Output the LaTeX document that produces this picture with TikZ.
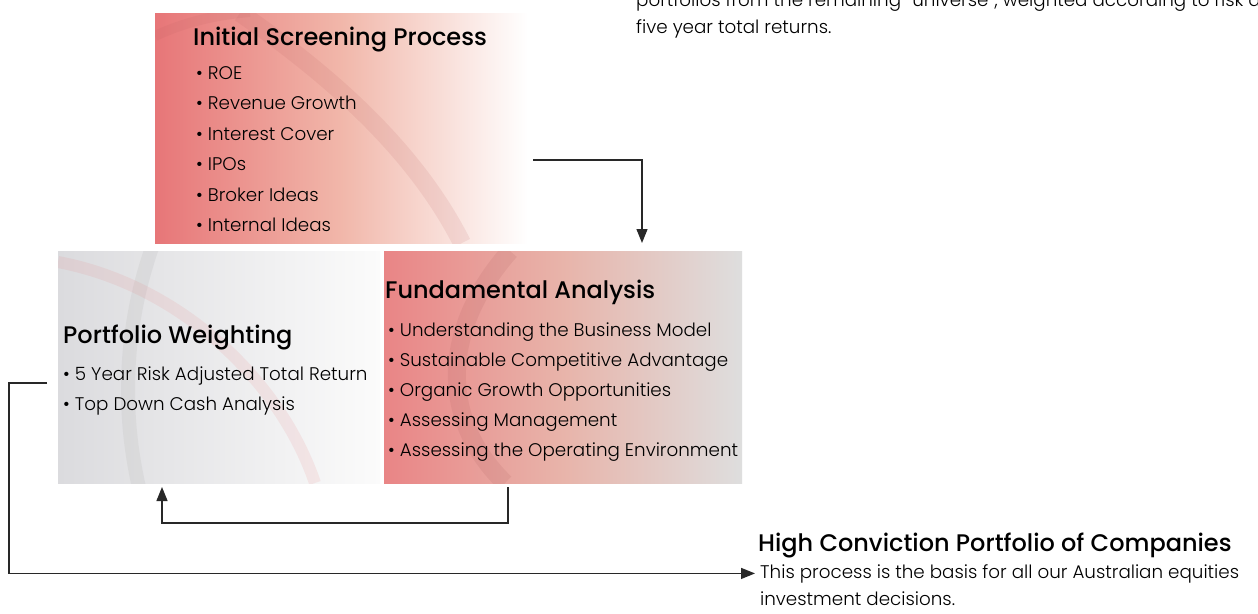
\documentclass[tikz,border=0pt]{standalone}
\usepackage{fontspec}
\setmainfont{Poppins Light}
\newfontfamily\headfont{Poppins Medium}
\usetikzlibrary{positioning,arrows.meta,calc}
\definecolor{screenred}{RGB}{231,118,120}
\definecolor{screenmid}{RGB}{241,183,170}
\definecolor{fundred}{RGB}{233,133,134}
\definecolor{fundmid}{RGB}{232,180,170}
\definecolor{fundgray}{RGB}{222,222,222}
\definecolor{pwgray}{RGB}{219,219,222}
\definecolor{pwwhite}{RGB}{251,251,251}
\definecolor{linegray}{RGB}{40,40,40}
\tikzset{
  box/.style={rectangle, inner sep=0pt, outer sep=0pt, anchor=north west},
  connect/.style={-{Triangle[length=14pt,width=11pt]}, line width=1.3pt, draw=linegray},
  heading/.style={anchor=base west, inner sep=0pt, font=\headfont\fontsize{24}{28}\selectfont},
  item/.style={anchor=base west, inner sep=0pt, font=\fontsize{18.3}{22}\selectfont},
  band/.style={line width=18pt, opacity=0.12}
}

\begin{document}
\begin{tikzpicture}[x=1pt,y=-1pt]
  \clip (0,0) rectangle (1258,613);
  \fill[white] (0,0) rectangle (1258,613);

  % the three boxes
  \node[box, minimum width=373pt, minimum height=230pt,
        left color=screenred, right color=white, middle color=screenmid] (screen) at (155,13) {};
  \node[box, minimum width=322pt, minimum height=232pt,
        left color=pwgray, right color=pwwhite] (pw) at (58,251) {};
  \node[box, minimum width=358pt, minimum height=232pt,
        left color=fundred, right color=fundgray, middle color=fundmid] (fund) at (384,251) {};

  % faint arcs behind the text
  \begin{scope}
    \clip (screen.north west) rectangle (screen.south east);
    \draw[band, draw=screenred!80!black] (240,13) .. controls (330,75) and (415,150) .. (462,243);
    \draw[band, draw=screenred!80!black, line width=10pt] (155,36) .. controls (185,22) and (215,15) .. (250,12);
  \end{scope}
  \begin{scope}
    \clip (pw.north west) rectangle (pw.south east);
    \draw[band, draw=black!40, line width=14pt] (560,390) circle (432pt);
    \draw[band, draw=screenred, line width=12pt] (58,262) .. controls (180,285) and (280,380) .. (315,483);
  \end{scope}
  \begin{scope}
    \clip (fund.north west) rectangle (fund.south east);
    \draw[band, draw=screenred!70!black] (510,251) .. controls (440,330) and (440,420) .. (505,483);
  \end{scope}

  % texts
  \node[heading] (scrhead) at (193,45) {Initial Screening Process};
  \foreach \txt [count=\i from 0] in {ROE,Revenue Growth,Interest Cover,IPOs,Broker Ideas,Internal Ideas}
    \node[item] (scr\i) at (196,{79+30.5*\i}) {\textbullet\ \txt};

  \node[heading] (pwhead) at (63,343) {Portfolio Weighting};
  \foreach \txt [count=\i from 0] in {5 Year Risk Adjusted Total Return,Top Down Cash Analysis}
    \node[item] (pw\i) at (63,{380+30*\i}) {\textbullet\ \txt};

  \node[heading] (fundhead) at (385,298) {Fundamental Analysis};
  \foreach \txt [count=\i from 0] in {Understanding the Business Model,Sustainable Competitive Advantage,Organic Growth Opportunities,Assessing Management,Assessing the Operating Environment}
    \node[item] (fund\i) at (388,{336+30*\i}) {\textbullet\ \txt};

  \node[heading] (hcphead) at (758,551) {High Conviction Portfolio of Companies};
  \node[item] (hcpline1) at (760,578) {This process is the basis for all our Australian equities};
  \node[item] (hcpline2) at (760,605) {investment decisions.};

  \node[item] (topline1) at (636,6) {portfolios from the remaining “universe”, weighted according to risk a};
  \node[item] (topline2) at (636,33) {five year total returns.};

  % connectors
  \draw[connect] ($(screen.east)+(5,32)$) -| ($(fund.north)+(79,-8)$);
  \draw[connect] ($(fund.south)+(-55,4)$) -- ++(0,36) -| ($(pw.south)+(-57,4)$);
  \draw[connect] ($(pw.west)+(-11,16)$) -- ++(-38,0) |- ([xshift=-5pt]hcpline1.west);
\end{tikzpicture}
\end{document}
